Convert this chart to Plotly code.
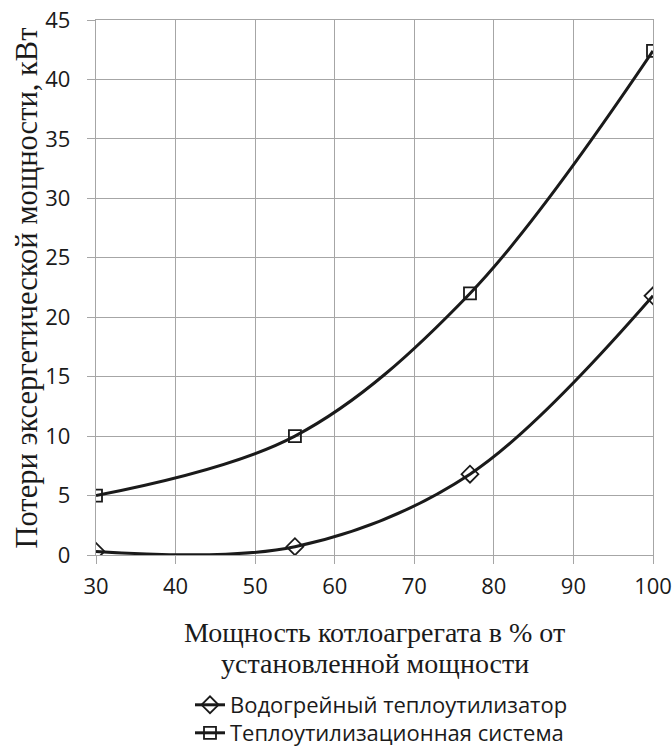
import plotly.graph_objects as go

x_vals = [30, 55, 77, 100]
water_heater = [0.3, 0.7, 6.8, 21.8]
heat_system = [5.0, 10.0, 22.0, 42.4]
x_ticks = [30, 40, 50, 60, 70, 80, 90, 100]
y_ticks = [0, 5, 10, 15, 20, 25, 30, 35, 40, 45]

fig = go.Figure()
fig.add_trace(go.Scatter(
    x=x_vals, y=water_heater, mode="lines+markers",
    name="Водогрейный теплоутилизатор", legend="legend",
    line=dict(color="#1a1a1a", width=3, shape="spline", smoothing=1.0),
    marker=dict(symbol="diamond-open", size=13, color="#1a1a1a", line=dict(width=1.8)),
))
fig.add_trace(go.Scatter(
    x=x_vals, y=heat_system, mode="lines+markers",
    name="Теплоутилизационная система", legend="legend2",
    line=dict(color="#1a1a1a", width=3, shape="spline", smoothing=1.0),
    marker=dict(symbol="square-open", size=12, color="#1a1a1a", line=dict(width=1.8)),
))

grid = "#a6a6a6"
L, R, T, B = 96, 19, 20, 191
W, H = 672, 746
pw = W - L - R
ph = H - T - B
bottom = T + ph

axis_common = dict(
    showgrid=True, gridcolor=grid, gridwidth=1.3,
    showline=True, linecolor=grid, linewidth=1.3, mirror=True,
    ticks="outside", ticklen=8, tickcolor=grid, tickwidth=1.3, zeroline=False,
    tickfont=dict(family="Open Sans", size=22, color="#1a1a1a"),
    automargin=False,
)

legend_common = dict(
    x=(190 - L) / pw, xanchor="left", yanchor="top",
    font=dict(family="Open Sans", size=22, color="#1a1a1a"),
    tracegroupgap=0, bgcolor="rgba(0,0,0,0)",
)

fig.update_layout(
    width=W, height=H,
    margin=dict(l=L, r=R, t=T, b=B, autoexpand=False),
    paper_bgcolor="white", plot_bgcolor="white",
    font=dict(family="Open Sans", color="#1a1a1a"),
    showlegend=True,
    legend=dict(y=-(684 - bottom) / ph, **legend_common),
    legend2=dict(y=-(712 - bottom) / ph, **legend_common),
    xaxis=dict(range=[30, 100], tickvals=x_ticks, ticklabelstandoff=3, **axis_common),
    yaxis=dict(range=[0, 45], tickvals=y_ticks, ticklabelstandoff=12, **axis_common),
    annotations=[
        dict(text="Мощность котлоагрегата в % от",
             xref="paper", yref="paper", x=0.5, y=-(632 - bottom) / ph,
             xanchor="center", yanchor="middle", showarrow=False,
             font=dict(family="Liberation Serif", size=28, color="#1a1a1a")),
        dict(text="установленной мощности",
             xref="paper", yref="paper", x=0.5, y=-(663 - bottom) / ph,
             xanchor="center", yanchor="middle", showarrow=False,
             font=dict(family="Liberation Serif", size=28, color="#1a1a1a")),
        dict(text="Потери эксергетической мощности, кВт",
             xref="paper", yref="paper", x=(26 - L) / pw, y=(0.5 * ph - 1) / ph,
             xanchor="center", yanchor="middle", showarrow=False, textangle=-90,
             font=dict(family="Liberation Serif", size=30.5, color="#1a1a1a")),
    ],
)

fig.write_html(
    "out.html",
    config={"displayModeBar": False},
    post_script="document.body.style.margin='0';document.body.style.overflow='hidden';",
)
